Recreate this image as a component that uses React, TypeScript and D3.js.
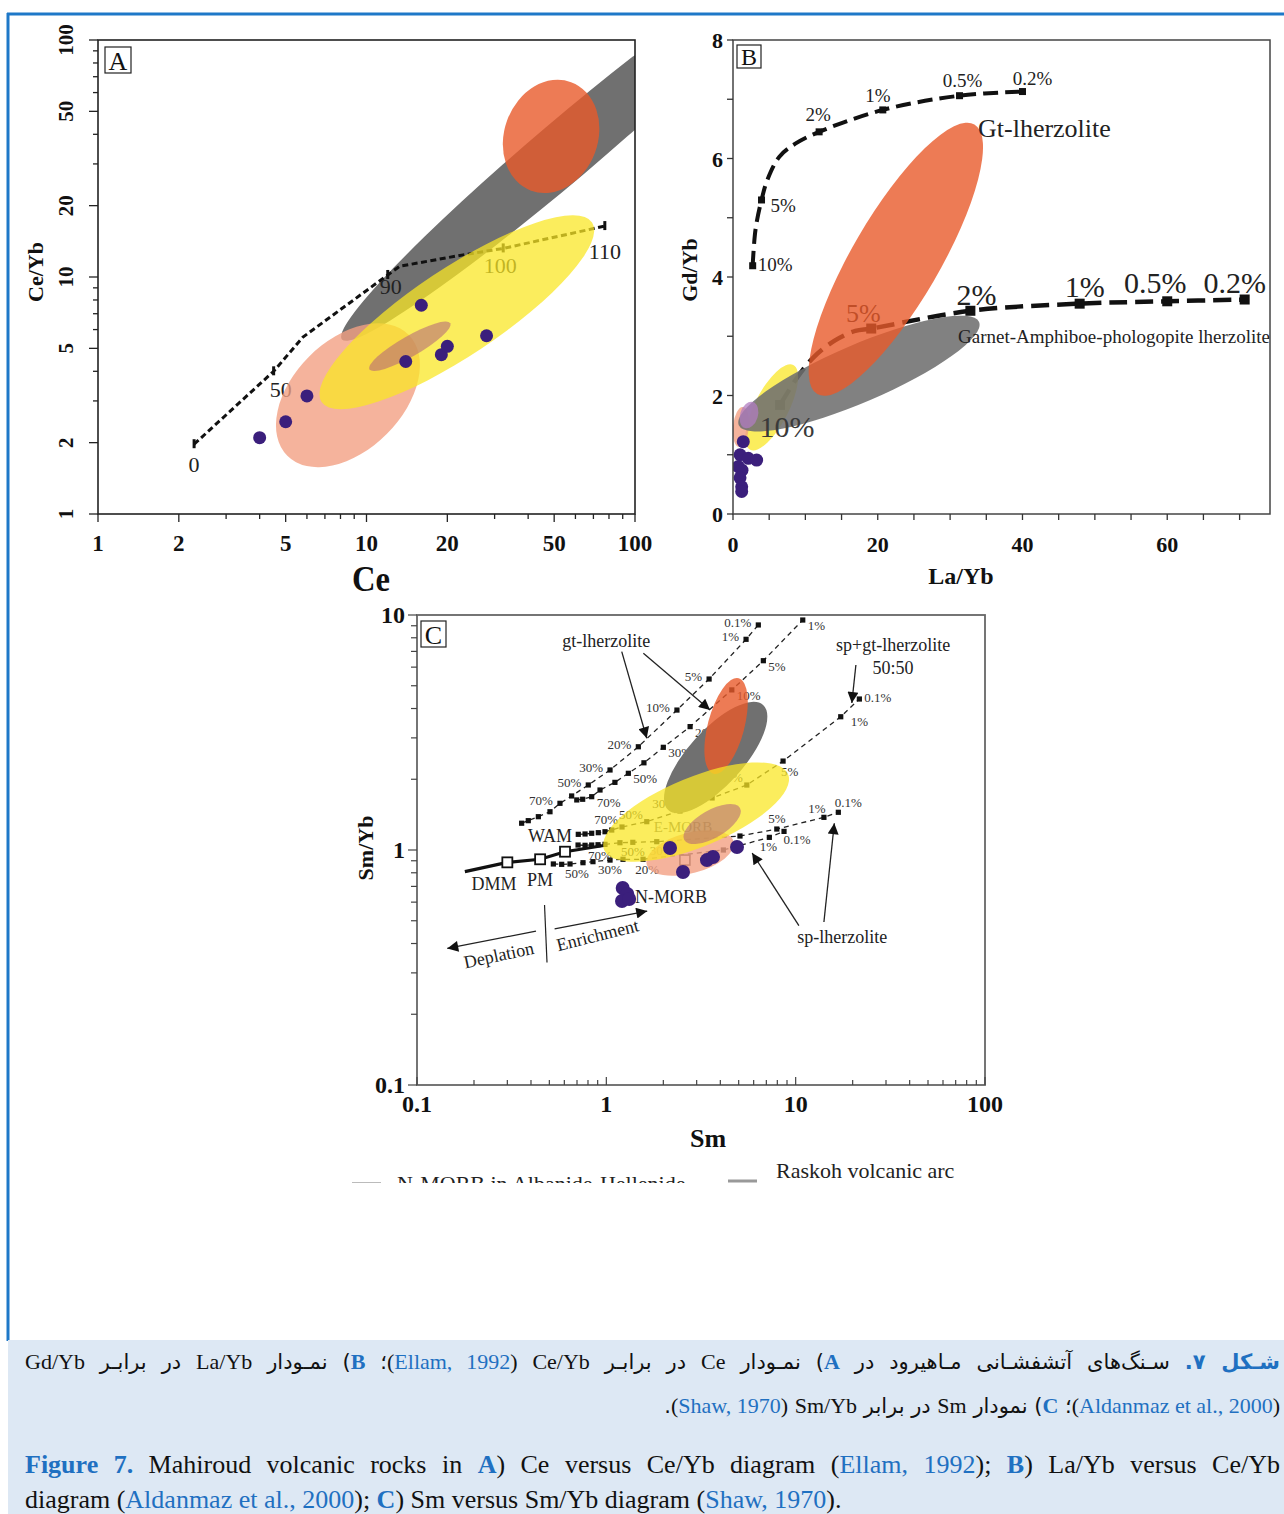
import React, { useEffect, useRef } from "react";
import * as d3 from "d3";

const W = 1284;
const H = 1514;
const serif = "'Liberation Serif', 'Times New Roman', serif";
const blue = "#1f70c1";

// ---------- A: Ce vs Ce/Yb (Ellam, 1992) ----------
const aMajorTicks = [1, 2, 5, 10, 20, 50, 100];
const aCe = [4.0, 5.0, 6.0, 14, 16, 19, 20, 28];
const aCeYb = [2.1, 2.45, 3.15, 4.4, 7.6, 4.7, 5.1, 5.65];
const aMixCe = [2.28, 4.51, 5.8, 12.0, 13.3, 22.9, 32.3, 77.2];
const aMixCeYb = [1.97, 4.0, 5.58, 10.2, 11.1, 12.4, 13.2, 16.4];
const aMixLabels = ["0", "50", "", "90", "", "", "100", "110"];
// fields: centre, end of the long axis (data units), short/long axis ratio
const aFields = [
  { kind: "gray", cx: 54.9, cy: 34.2, tx: 8.1, ty: 5.45, ratio: 0.103 },
  { kind: "orange", cx: 48.7, cy: 39.2, tx: 57.8, ty: 66.4, ratio: 0.81 },
  { kind: "salmon", cx: 8.53, cy: 3.17, tx: 14.35, ty: 5.71, ratio: 0.64 },
  { kind: "yellow", cx: 21.7, cy: 7.1, tx: 69.2, ty: 17.0, ratio: 0.27 },
  { kind: "rosy", cx: 14.5, cy: 5.1, tx: 20.5, ty: 6.38, ratio: 0.22 },
];

// ---------- B: La/Yb vs Gd/Yb (Aldanmaz et al., 2000) ----------
const bMajorX = [0, 20, 40, 60];
const bMajorY = [0, 2, 4, 6, 8];
const bLaYb = [1.42, 0.97, 2.11, 3.27, 0.73, 1.24, 0.97, 1.2, 1.2];
const bGdYb = [1.22, 1.0, 0.94, 0.91, 0.8, 0.74, 0.61, 0.46, 0.38];
const gtLaYb = [2.72, 3.11, 3.94, 4.75, 6.41, 8.61, 11.9, 20.7, 31.3, 40.0];
const gtGdYb = [4.19, 4.8, 5.3, 5.64, 6.03, 6.25, 6.45, 6.82, 7.06, 7.13];
const gtLabels = ["10%", "", "5%", "", "", "", "2%", "1%", "0.5%", "0.2%"];
const gapLaYb = [6.5, 8.8, 11.1, 14.1, 16.9, 19.1, 32.8, 47.9, 60.0, 70.7];
const gapGdYb = [1.84, 2.29, 2.64, 2.93, 3.09, 3.13, 3.43, 3.55, 3.59, 3.62];
const gapLabels = ["10%", "", "", "", "", "5%", "2%", "1%", "0.5%", "0.2%"];
const bFields = [
  { kind: "yellow", cx: 5.35, cy: 1.8, tx: 8.33, ty: 2.515, ratio: 0.36 },
  { kind: "salmon", cx: 1.1, cy: 1.47, tx: 1.38, ty: 1.806, ratio: 0.4 },
  { kind: "gray", cx: 17.4, cy: 2.37, tx: 34.0, ty: 3.24, ratio: 0.22 },
  { kind: "orange", cx: 22.5, cy: 4.3, tx: 33.36, ty: 6.575, ratio: 0.28 },
  { kind: "mauve", cx: 2.21, cy: 1.67, tx: 2.76, ty: 1.89, ratio: 0.65 },
];

// ---------- C: Sm vs Sm/Yb (Shaw, 1970) ----------
const cMajorX = [0.1, 1, 10, 100];
const cMajorY = [0.1, 1, 10];
const cSm = [2.17, 2.54, 3.4, 3.66, 4.9, 1.22, 1.29, 1.21, 1.32];
const cSmYb = [1.02, 0.806, 0.906, 0.934, 1.03, 0.689, 0.65, 0.607, 0.619];
// gt-lherzolite melting curves
const gt1Sm = [0.357, 0.387, 0.4375, 0.504, 0.569, 0.656, 0.803, 1.046, 1.476, 2.36, 3.49, 5.47, 6.35];
const gt1SmYb = [1.3, 1.333, 1.386, 1.455, 1.58, 1.698, 1.891, 2.19, 2.75, 3.94, 5.34, 7.88, 9.07];
const gt1Labels = ["", "", "", "", "70%", "", "50%", "30%", "20%", "10%", "5%", "1%", "0.1%"];
const gt2Sm = [0.698, 0.75, 0.837, 0.926, 1.11, 1.307, 1.58, 2.0, 2.77, 4.6, 6.75, 10.9];
const gt2SmYb = [1.633, 1.644, 1.686, 1.8, 1.94, 2.12, 2.35, 2.735, 3.35, 4.8, 6.39, 9.52];
const gt2Labels = ["", "", "70%", "", "", "50%", "", "30%", "20", "10%", "5%", "1%"];
// sp+gt-lherzolite 50:50 (from WAM)
const spgtSm = [0.711, 0.772, 0.837, 0.907, 0.984, 1.068, 1.21, 1.635, 2.45, 3.62, 5.52, 8.58, 17.3, 21.7];
const spgtSmYb = [1.166, 1.17, 1.178, 1.185, 1.196, 1.216, 1.253, 1.32, 1.466, 1.665, 1.89, 2.39, 3.69, 4.39];
const spgtLabels = ["", "", "", "", "", "", "70%", "50%", "30%", "20%", "10%", "5%", "1%", "0.1%"];
// sp-lherzolite curves
const spASm = [0.525, 0.581, 0.643, 0.753, 0.85, 1.046, 1.225, 1.563, 4.15, 7.26, 8.68];
const spASmYb = [0.872, 0.869, 0.872, 0.883, 0.892, 0.906, 0.913, 0.913, 1.0, 1.132, 1.2];
const spALabels = ["", "", "", "50%", "", "30%", "", "20%", "", "1%", "0.1%"];
const spBSm = [0.709, 0.772, 0.837, 0.904, 0.984, 1.18, 1.38, 1.846, 5.08, 7.95, 14.1, 16.8];
const spBSmYb = [1.05, 1.047, 1.05, 1.053, 1.057, 1.074, 1.078, 1.085, 1.147, 1.228, 1.377, 1.447];
const spBLabels = ["", "", "", "", "", "70%", "50%", "30%", "", "5%", "1%", "0.1%"];
// DMM - PM source line, open squares
const srcSm = [0.179, 0.3, 0.447, 0.605, 1.005];
const srcSmYb = [0.809, 0.886, 0.913, 0.9835, 1.05];
const srcOpen = [false, true, true, true, false];
const loneSquare = [2.6, 0.906];
const cFields = [
  { kind: "gray", cx: 3.78, cy: 2.475, tx: 6.73, ty: 4.14, ratio: 0.39 },
  { kind: "orange", cx: 4.29, cy: 3.37, tx: 5.0, ty: 5.38, ratio: 0.37 },
  { kind: "salmon", cx: 2.77, cy: 0.971, tx: 4.7, ty: 1.088, ratio: 0.45 },
  { kind: "yellow", cx: 2.98, cy: 1.45, tx: 9.12, ty: 2.1, ratio: 0.35 },
  { kind: "rosy", cx: 3.62, cy: 1.29, tx: 5.08, ty: 1.51, ratio: 0.43 },
];
// annotations in data units
const cNotes = [
  { text: "gt-lherzolite", x: 1.0, y: 7.3, anchor: "middle" },
  { text: "sp+gt-lherzolite", x: 32.7, y: 7.03, anchor: "middle" },
  { text: "50:50", x: 32.7, y: 5.61, anchor: "middle" },
  { text: "sp-lherzolite", x: 17.6, y: 0.402, anchor: "middle" },
  { text: "DMM", x: 0.255, y: 0.676, anchor: "middle" },
  { text: "PM", x: 0.447, y: 0.703, anchor: "middle" },
  { text: "N-MORB", x: 1.418, y: 0.595, anchor: "start" },
  { text: "WAM", x: 0.659, y: 1.082, anchor: "end" },
];
const cArrows = [
  [1.206, 6.98, 1.635, 2.99],
  [1.569, 6.87, 3.53, 3.94],
  [20.8, 6.13, 19.8, 4.22],
  [10.4, 0.477, 5.89, 0.971],
  [14.1, 0.494, 16.0, 1.3],
  [0.425, 0.452, 0.1445, 0.381],
  [0.533, 0.462, 1.644, 0.55],
];
const cDivider = [0.4716, 0.583, 0.486, 0.332];

const fill = { gray: "#707070", orange: "#e85a2a", salmon: "#f3a083", yellow: "#fae724", rosy: "#b0607a", mauve: "#b07cc0" };
const alpha = { gray: 1, orange: 0.8, salmon: 0.8, yellow: 0.74, rosy: 0.55, mauve: 0.75 };

function addText(g, x, y, s, size, o: any = {}) {
  const t = g.append("text").attr("x", x).attr("y", y).text(s)
    .attr("font-family", serif).attr("font-size", size)
    .attr("fill", o.fill || "#111")
    .attr("text-anchor", o.anchor || "start");
  if (o.bold) t.attr("font-weight", "bold");
  if (o.rotate != null) t.attr("transform", `rotate(${o.rotate},${x},${y})`);
  if (o.len) t.attr("textLength", o.len).attr("lengthAdjust", "spacingAndGlyphs");
  return t;
}

function field(g, sx, sy, f, op?) {
  const cx = sx(f.cx), cy = sy(f.cy);
  const tx = sx(f.tx), ty = sy(f.ty);
  const a = Math.hypot(tx - cx, ty - cy);
  const ang = (Math.atan2(ty - cy, tx - cx) * 180) / Math.PI;
  g.append("ellipse").attr("cx", cx).attr("cy", cy).attr("rx", a).attr("ry", a * f.ratio)
    .attr("transform", `rotate(${ang} ${cx} ${cy})`)
    .attr("fill", fill[f.kind]).attr("fill-opacity", op != null ? op : alpha[f.kind]);
}

const isMajor = (v, list) => list.some((m) => Math.abs(m - v) / m < 1e-6 || (m === 0 && v === 0));

function clip(defs, id, x, y) {
  const [x0, x1] = x.range();
  const [y0, y1] = y.range();
  defs.append("clipPath").attr("id", id).append("rect")
    .attr("x", x0).attr("y", y1).attr("width", x1 - x0).attr("height", y0 - y1);
}

function box(root, x, y, stroke, sw) {
  const [x0, x1] = x.range();
  const [y0, y1] = y.range();
  root.append("rect").attr("x", x0).attr("y", y1).attr("width", x1 - x0).attr("height", y0 - y1)
    .attr("fill", "none").attr("stroke", stroke).attr("stroke-width", sw);
}

function dots(g, sx, sy, xs, ys, r) {
  xs.forEach((v, i) => g.append("circle").attr("cx", sx(v)).attr("cy", sy(ys[i])).attr("r", r).attr("fill", "#3b1f7c"));
}

function panelA(root, defs) {
  const x = d3.scaleLog().domain([1, 100]).range([98, 635]);
  const y = d3.scaleLog().domain([1, 100]).range([514, 40]);
  const [x0] = x.range();
  const [y0] = y.range();
  clip(defs, "clipA", x, y);
  const g = root.append("g").attr("clip-path", "url(#clipA)");
  const layer = (kinds) => aFields.filter((f) => kinds.includes(f.kind)).forEach((f) => field(g, x, y, f));

  layer(["gray", "orange"]);

  const pts = aMixCe.map((c, i) => [x(c), y(aMixCeYb[i])]);
  g.append("path").attr("d", d3.line()(pts)).attr("fill", "none")
    .attr("stroke", "#111").attr("stroke-width", 3).attr("stroke-dasharray", "6,3.5");
  const offs = [[0, 28], [7, 26], null, [3, 19], null, null, [-3, 25], [0, 33]];
  aMixLabels.forEach((lab, i) => {
    if (!lab) return;
    const [px, py] = pts[i];
    g.append("line").attr("x1", px).attr("x2", px).attr("y1", py - 5).attr("y2", py + 4)
      .attr("stroke", "#111").attr("stroke-width", 3);
    addText(g, px + offs[i][0], py + offs[i][1], lab, 22, { anchor: "middle", fill: "#222" });
  });

  layer(["salmon", "yellow", "rosy"]);
  dots(g, x, y, aCe, aCeYb, 6.5);

  box(root, x, y, "#222", 1.6);
  x.ticks().forEach((v) => {
    const maj = isMajor(v, aMajorTicks);
    root.append("line").attr("x1", x(v)).attr("x2", x(v)).attr("y1", y0).attr("y2", y0 + (maj ? 8 : 5))
      .attr("stroke", "#222").attr("stroke-width", 1.3);
    if (maj) addText(root, x(v), y0 + 37, String(v), 23, { anchor: "middle", bold: true });
  });
  y.ticks().forEach((v) => {
    const maj = isMajor(v, aMajorTicks);
    root.append("line").attr("x1", x0 - (maj ? 9 : 5)).attr("x2", x0).attr("y1", y(v)).attr("y2", y(v))
      .attr("stroke", "#222").attr("stroke-width", 1.3);
    if (maj) addText(root, x0 - 25, y(v), String(v), 21, { anchor: "middle", bold: true, rotate: -90 });
  });
  addText(root, 43, 272, "Ce/Yb", 22, { anchor: "middle", bold: true, rotate: -90 });
  addText(root, 371, 591, "Ce", 36, { anchor: "middle", bold: true, len: 38 });
  root.append("rect").attr("x", 105).attr("y", 47).attr("width", 26).attr("height", 26)
    .attr("fill", "#fff").attr("stroke", "#222").attr("stroke-width", 1.2);
  addText(root, 118, 70, "A", 26, { anchor: "middle" });
}

function panelB(root, defs) {
  const x = d3.scaleLinear().domain([0, 74.2]).range([733, 1270]);
  const y = d3.scaleLinear().domain([0, 8]).range([514, 40]);
  const [x0] = x.range();
  const [y0] = y.range();
  clip(defs, "clipB", x, y);
  const g = root.append("g").attr("clip-path", "url(#clipB)");
  const curve = d3.line().curve(d3.curveCatmullRom.alpha(0.5));

  // Gt-lherzolite melting curve
  const up = gtLaYb.map((v, i) => [x(v), y(gtGdYb[i])]);
  g.append("path").attr("d", curve(up)).attr("fill", "none").attr("stroke", "#111")
    .attr("stroke-width", 4).attr("stroke-dasharray", "15,7");
  const upOff = [["start", 5, 5], null, ["start", 9, 12], null, null, null,
    ["middle", -1, -11], ["middle", -5, -8], ["middle", 3, -9], ["middle", 10, -7]];
  gtLabels.forEach((lab, i) => {
    if (!lab) return;
    const [px, py] = up[i];
    g.append("rect").attr("x", px - 3.5).attr("y", py - 3.5).attr("width", 7).attr("height", 7).attr("fill", "#111");
    addText(g, px + upOff[i][1], py + upOff[i][2], lab, 19, { anchor: upOff[i][0], fill: "#222" });
  });

  // Garnet-amphibole-phlogopite lherzolite curve
  const lo = gapLaYb.map((v, i) => [x(v), y(gapGdYb[i])]);
  g.append("path").attr("d", curve(lo)).attr("fill", "none").attr("stroke", "#111")
    .attr("stroke-width", 4.5).attr("stroke-dasharray", "18,8");
  const loOff = [[7, 32], null, null, null, null, [-8, -7], [6, -6], [5, -7], [-12, -8], [-10, -7]];
  gapLabels.forEach((lab, i) => {
    if (!lab) return;
    const [px, py] = lo[i];
    g.append("rect").attr("x", px - 5).attr("y", py - 5).attr("width", 10).attr("height", 10).attr("fill", "#111");
    if (i > 0) addText(g, px + loOff[i][0], py + loOff[i][1], lab, i === 5 ? 26 : 30, { anchor: "middle", fill: "#222" });
  });

  const byKind = (k) => bFields.filter((f) => f.kind === k).forEach((f) => field(g, x, y, f, k === "gray" ? 0.88 : undefined));
  ["yellow", "salmon", "gray", "orange", "mauve"].forEach(byKind);
  dots(g, x, y, bLaYb, bGdYb, 6.5);
  // the 10% label of the lower curve reads through the grey field
  addText(g, lo[0][0] + loOff[0][0], lo[0][1] + loOff[0][1], gapLabels[0], 30, { anchor: "middle", fill: "#3a3a3a" });

  addText(root, 978, 137, "Gt-lherzolite", 26, { fill: "#222" });
  addText(root, 958, 343, "Garnet-Amphiboe-phologopite lherzolite", 18, { fill: "#222", len: 312 });

  box(root, x, y, "#444", 1.5);
  d3.range(0, 71, 5).forEach((v) => {
    root.append("line").attr("x1", x(v)).attr("x2", x(v)).attr("y1", y0).attr("y2", y0 + 6)
      .attr("stroke", "#333").attr("stroke-width", 1.3);
    if (bMajorX.includes(v)) addText(root, x(v), y0 + 38, String(v), 22, { anchor: "middle", bold: true });
  });
  d3.range(0, 9, 1).forEach((v) => {
    root.append("line").attr("x1", x0 - 6).attr("x2", x0).attr("y1", y(v)).attr("y2", y(v))
      .attr("stroke", "#333").attr("stroke-width", 1.3);
    if (bMajorY.includes(v)) addText(root, x0 - 10, y(v) + 8, String(v), 22, { anchor: "end", bold: true });
  });
  addText(root, 961, 584, "La/Yb", 24, { anchor: "middle", bold: true });
  addText(root, 697, 270, "Gd/Yb", 22, { anchor: "middle", bold: true, rotate: -90 });
  root.append("rect").attr("x", 737).attr("y", 45).attr("width", 24).attr("height", 23)
    .attr("fill", "#fff").attr("stroke", "#222").attr("stroke-width", 1.2);
  addText(root, 749, 65, "B", 24, { anchor: "middle" });
}

function panelC(root, defs) {
  const x = d3.scaleLog().domain([0.1, 100]).range([417, 985]);
  const y = d3.scaleLog().domain([0.1, 10]).range([1085, 615]);
  const [x0] = x.range();
  const [y0] = y.range();
  clip(defs, "clipC", x, y);
  const g = root.append("g").attr("clip-path", "url(#clipC)");

  const melt = (xs, ys, labels, place) => {
    const pts = xs.map((v, i) => [x(v), y(ys[i])]);
    g.append("path").attr("d", d3.line()(pts)).attr("fill", "none").attr("stroke", "#222")
      .attr("stroke-width", 1.3).attr("stroke-dasharray", "5,4");
    pts.forEach((p) => g.append("rect").attr("x", p[0] - 2.6).attr("y", p[1] - 2.6)
      .attr("width", 5.2).attr("height", 5.2).attr("fill", "#111"));
    labels.forEach((lab, i) => {
      if (!lab) return;
      const [a, dx, dy] = place(i);
      addText(g, pts[i][0] + dx, pts[i][1] + dy, lab, 13, { anchor: a, fill: "#333" });
    });
  };
  melt(gt1Sm, gt1SmYb, gt1Labels, () => ["end", -7, 2]);
  melt(gt2Sm, gt2SmYb, gt2Labels, () => ["start", 5, 10]);
  const spgtPlace = { 11: ["start", -2, 15], 12: ["start", 10, 9], 13: ["start", 5, 3] };
  melt(spgtSm, spgtSmYb, spgtLabels, (i) => spgtPlace[i] || ["end", -4, -3]);
  const spAPlace = { 3: [-6, 15], 5: [0, 14], 7: [4, 15], 9: [-1, 14], 10: [13, 13] };
  melt(spASm, spASmYb, spALabels, (i) => ["middle", spAPlace[i][0], spAPlace[i][1]]);
  const spBPlace = { 5: [-20, 17], 6: [0, 14], 7: [5, 13], 9: [0, -6], 10: [-7, -4], 11: [10, -5] };
  melt(spBSm, spBSmYb, spBLabels, (i) => ["middle", spBPlace[i][0], spBPlace[i][1]]);

  const src = srcSm.map((v, i) => [x(v), y(srcSmYb[i])]);
  g.append("path").attr("d", d3.line()(src)).attr("fill", "none").attr("stroke", "#111").attr("stroke-width", 3.2);
  src.forEach((p, i) => {
    if (!srcOpen[i]) return;
    g.append("rect").attr("x", p[0] - 5).attr("y", p[1] - 5).attr("width", 10).attr("height", 10)
      .attr("fill", "#fff").attr("stroke", "#111").attr("stroke-width", 1.8);
  });
  g.append("rect").attr("x", x(loneSquare[0]) - 5).attr("y", y(loneSquare[1]) - 5).attr("width", 10).attr("height", 10)
    .attr("fill", "#fff").attr("stroke", "#333").attr("stroke-width", 1.6);
  addText(g, x(2.54), y(1.19), "E-MORB", 15, { anchor: "middle", fill: "#666" });

  cFields.forEach((f) => field(g, x, y, f));
  dots(g, x, y, cSm, cSmYb, 7);

  cNotes.forEach((n) => addText(g, x(n.x), y(n.y), n.text, 18, { anchor: n.anchor, fill: "#222" }));
  cArrows.forEach((a) => {
    g.append("line").attr("x1", x(a[0])).attr("y1", y(a[1])).attr("x2", x(a[2])).attr("y2", y(a[3]))
      .attr("stroke", "#222").attr("stroke-width", 1.3).attr("marker-end", "url(#arrowhead)");
  });
  g.append("line").attr("x1", x(cDivider[0])).attr("y1", y(cDivider[1])).attr("x2", x(cDivider[2])).attr("y2", y(cDivider[3]))
    .attr("stroke", "#222").attr("stroke-width", 1.2);
  addText(g, x(0.2745), y(0.337), "Deplation", 18, { anchor: "middle", fill: "#222", rotate: -12 });
  addText(g, x(0.915), y(0.41), "Enrichment", 18, { anchor: "middle", fill: "#222", rotate: -14 });

  box(root, x, y, "#666", 1.8);
  x.ticks().forEach((v) => {
    const maj = isMajor(v, cMajorX);
    root.append("line").attr("x1", x(v)).attr("x2", x(v)).attr("y1", y0).attr("y2", y0 - (maj ? 8 : 5))
      .attr("stroke", "#444").attr("stroke-width", 1.2);
    if (maj) addText(root, x(v), y0 + 27, String(v), 24, { anchor: "middle", bold: true });
  });
  y.ticks().forEach((v) => {
    const maj = isMajor(v, cMajorY);
    root.append("line").attr("x1", x0 - (maj ? 9 : 6)).attr("x2", x0).attr("y1", y(v)).attr("y2", y(v))
      .attr("stroke", "#444").attr("stroke-width", 1.2);
    if (maj) addText(root, x0 - 12, y(v) + 8, String(v), 24, { anchor: "end", bold: true });
  });
  addText(root, 708, 1147, "Sm", 26, { anchor: "middle", bold: true });
  addText(root, 373, 848, "Sm/Yb", 22, { anchor: "middle", bold: true, rotate: -90 });
  root.append("rect").attr("x", 421).attr("y", 621).attr("width", 25).attr("height", 26)
    .attr("fill", "#fff").attr("stroke", "#222").attr("stroke-width", 1.2);
  addText(root, 433.5, 644, "C", 26, { anchor: "middle" });
}

function legend(root, defs) {
  defs.append("clipPath").attr("id", "clipLegend").append("rect")
    .attr("x", 0).attr("y", 1140).attr("width", W).attr("height", 43);
  const g = root.append("g").attr("clip-path", "url(#clipLegend)");
  g.append("line").attr("x1", 352).attr("x2", 381).attr("y1", 1183).attr("y2", 1183).attr("stroke", "#bbb").attr("stroke-width", 2);
  addText(g, 397, 1191, "N-MORB in Albanide-Hellenide", 22, { fill: "#222" });
  g.append("line").attr("x1", 728).attr("x2", 757).attr("y1", 1181).attr("y2", 1181).attr("stroke", "#999").attr("stroke-width", 3);
  addText(g, 776, 1178, "Raskoh volcanic arc", 22, { fill: "#222" });
}

// Latin chunk inside the Persian caption, isolated so it keeps its own order
const Lat = ({ children }: any) => (
  <bdi dir="ltr" style={{ fontFamily: serif, fontSize: 22, color: "#111" }}>{children}</bdi>
);
const Ref = ({ children }: any) => (
  <bdi dir="ltr" style={{ fontFamily: serif, fontSize: 22, color: "#111" }}>
    (<span style={{ color: blue }}>{children}</span>)
  </bdi>
);
const Bl = ({ children }: any) => <b style={{ color: blue, fontFamily: serif }}>{children}</b>;
const BlIso = ({ children }: any) => (
  <bdi dir="ltr" style={{ color: blue, fontFamily: serif, fontWeight: "bold", fontSize: 22 }}>{children}</bdi>
);

export default function App() {
  const gRef = useRef(null);

  useEffect(() => {
    const root = d3.select(gRef.current);
    root.selectAll("*").remove();
    const defs = root.append("defs");
    defs.append("marker").attr("id", "arrowhead").attr("viewBox", "0 0 10 10")
      .attr("refX", 10).attr("refY", 5).attr("markerWidth", 15).attr("markerHeight", 11)
      .attr("markerUnits", "userSpaceOnUse").attr("orient", "auto")
      .append("path").attr("d", "M0,0 L10,5 L0,10 z").attr("fill", "#111");

    root.append("line").attr("x1", 7).attr("x2", W).attr("y1", 14).attr("y2", 14)
      .attr("stroke", "#1e78c8").attr("stroke-width", 3);
    root.append("line").attr("x1", 8).attr("x2", 8).attr("y1", 13).attr("y2", 1341)
      .attr("stroke", "#1e78c8").attr("stroke-width", 3);

    panelA(root, defs);
    panelB(root, defs);
    panelC(root, defs);
    legend(root, defs);
  }, []);

  const fa = { fontFamily: "'DejaVu Sans', sans-serif", fontSize: 21, lineHeight: "44px", height: 44, whiteSpace: "nowrap" as const };

  return (
    <div style={{ position: "absolute", left: 0, top: 0, width: W, height: H, background: "#fff" }}>
      <svg width={W} height={H} style={{ display: "block" }}>
        <g ref={gRef} />
        <foreignObject x={8} y={1340} width={W - 8} height={H - 1340}>
          <div style={{ width: W - 8, height: H - 1340, background: "#dde8f4", boxSizing: "border-box", padding: "0 4px 0 17px", color: "#111" }}>
            <div dir="rtl" style={{ ...fa, textAlign: "justify", textAlignLast: "justify" }}>
              <b style={{ color: blue }}>شـکل ۷.</b> سـنگ‌های آتشفشـانی مـاهیرود در <BlIso>A</BlIso>) نمـودار <Lat>Ce</Lat> در برابـر <Lat>Ce/Yb</Lat> <Ref>Ellam, 1992</Ref>؛ <BlIso>B</BlIso>) نمـودار <Lat>La/Yb</Lat> در برابـر <Lat>Gd/Yb</Lat>
            </div>
            <div dir="rtl" style={{ ...fa, textAlign: "right" }}>
              <Ref>Aldanmaz et al., 2000</Ref>؛ <BlIso>C</BlIso>) نمودار <Lat>Sm</Lat> در برابر <Lat>Sm/Yb</Lat> <Ref>Shaw, 1970</Ref>.
            </div>
            <div style={{ fontFamily: serif, fontSize: 26, lineHeight: "35px", marginTop: 19, textAlign: "justify", textAlignLast: "justify", whiteSpace: "nowrap" }}>
              <Bl>Figure 7.</Bl> Mahiroud volcanic rocks in <Bl>A</Bl>) Ce versus Ce/Yb diagram (<span style={{ color: blue }}>Ellam, 1992</span>); <Bl>B</Bl>) La/Yb versus Ce/Yb
            </div>
            <div style={{ fontFamily: serif, fontSize: 26, lineHeight: "35px", textAlign: "left", whiteSpace: "nowrap" }}>
              diagram (<span style={{ color: blue }}>Aldanmaz et al., 2000</span>); <Bl>C</Bl>) Sm versus Sm/Yb diagram (<span style={{ color: blue }}>Shaw, 1970</span>).
            </div>
          </div>
        </foreignObject>
      </svg>
    </div>
  );
}
